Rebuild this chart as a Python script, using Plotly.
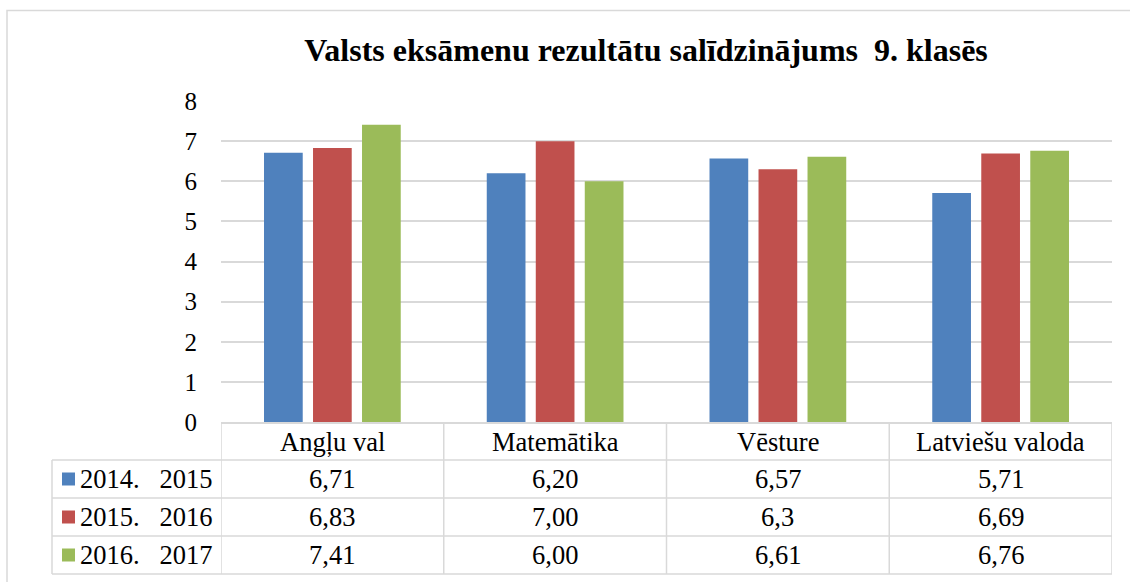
import plotly.graph_objects as go

subjects = ["Angļu val", "Matemātika", "Vēsture", "Latviešu valoda"]
series_names = ["2014.   2015", "2015.   2016", "2016.   2017"]
vals_1415 = [6.71, 6.20, 6.57, 5.71]
vals_1516 = [6.83, 7.00, 6.30, 6.69]
vals_1617 = [7.41, 6.00, 6.61, 6.76]
labels_1415 = ["6,71", "6,20", "6,57", "5,71"]
labels_1516 = ["6,83", "7,00", "6,3", "6,69"]
labels_1617 = ["7,41", "6,00", "6,61", "6,76"]

colors = ["#4F81BD", "#C0504D", "#9BBB59"]
grid = "#d9d9d9"
font = "Liberation Serif"

W, H = 1130, 582
L, R, T, B = 221, 1112, 101, 422


def px(x):
    return (x - L) / (R - L)


def py(y):
    return (B - y) / (B - T)


fig = go.Figure()
all_vals = [vals_1415, vals_1516, vals_1617]
all_labels = [labels_1415, labels_1516, labels_1617]
for name, vals, c in zip(series_names, all_vals, colors):
    fig.add_trace(go.Bar(x=subjects, y=vals, name=name, marker_color=c,
                         marker_line_width=0, showlegend=False))

shapes = []
# outer chart border
shapes.append(dict(type="rect", xref="paper", yref="paper", x0=px(7), x1=1.2,
                   y0=-0.8, y1=py(10.5), line=dict(color=grid, width=1.5)))

row_lines = [460, 498, 536, 574]
for y in row_lines:
    shapes.append(dict(type="line", xref="paper", yref="paper", x0=px(52), x1=1,
                       y0=py(y), y1=py(y), line=dict(color=grid, width=1.5)))
# left edge of legend column
shapes.append(dict(type="line", xref="paper", yref="paper", x0=px(52), x1=px(52),
                   y0=py(460), y1=py(574), line=dict(color=grid, width=1.5)))
# column separators at category boundaries
for k in range(len(subjects) + 1):
    shapes.append(dict(type="line", xref="x", yref="paper", x0=k - 0.5, x1=k - 0.5,
                       y0=0, y1=py(574), line=dict(color=grid, width=1.5)))

txt = dict(family=font, size=26.5, color="#000")
row_centers = [479, 517, 555]
annotations = []
for subj in subjects:
    annotations.append(dict(x=subj, y=py(441.5), xref="x", yref="paper", text=subj,
                            xanchor="center", yanchor="middle", showarrow=False, font=txt))
for r, (name, labs, c) in enumerate(zip(series_names, all_labels, colors)):
    yc = row_centers[r]
    shapes.append(dict(type="rect", xref="paper", yref="paper", x0=px(62), x1=px(75),
                       y0=py(yc + 6.5), y1=py(yc - 6.5), fillcolor=c, line=dict(width=0)))
    annotations.append(dict(x=px(78), y=py(yc), xref="paper", yref="paper",
                            text=name.replace(" ", "\u00a0"), xanchor="left", yanchor="middle",
                            showarrow=False, font=txt))
    for subj, lab in zip(subjects, labs):
        annotations.append(dict(x=subj, y=py(yc), xref="x", yref="paper", text=lab,
                                xanchor="center", yanchor="middle", showarrow=False, font=txt))

fig.update_layout(
    width=W, height=H,
    margin=dict(l=L, r=W - R, t=T, b=H - B),
    plot_bgcolor="white", paper_bgcolor="white",
    barmode="group", bargap=0.34, bargroupgap=0.21,
    title=dict(text="<b>Valsts eksāmenu rezultātu salīdzinājums  9. klasēs</b>",
               x=646 / W, xanchor="center", y=1 - 50 / H, yanchor="middle",
               font=dict(family=font, size=32, color="#000")),
    xaxis=dict(range=[-0.5, 3.5], showticklabels=False, showgrid=False,
               showline=True, linecolor=grid, linewidth=1.5, fixedrange=True),
    yaxis=dict(range=[0, 8], dtick=1, showgrid=True, gridcolor=grid, gridwidth=1.5,
               zeroline=False, ticklabelstandoff=23,
               tickfont=dict(family=font, size=25, color="#000")),
    shapes=shapes, annotations=annotations,
)

fig.write_html("out.html", config={"displayModeBar": False},
               post_script="document.body.style.margin='0';")
